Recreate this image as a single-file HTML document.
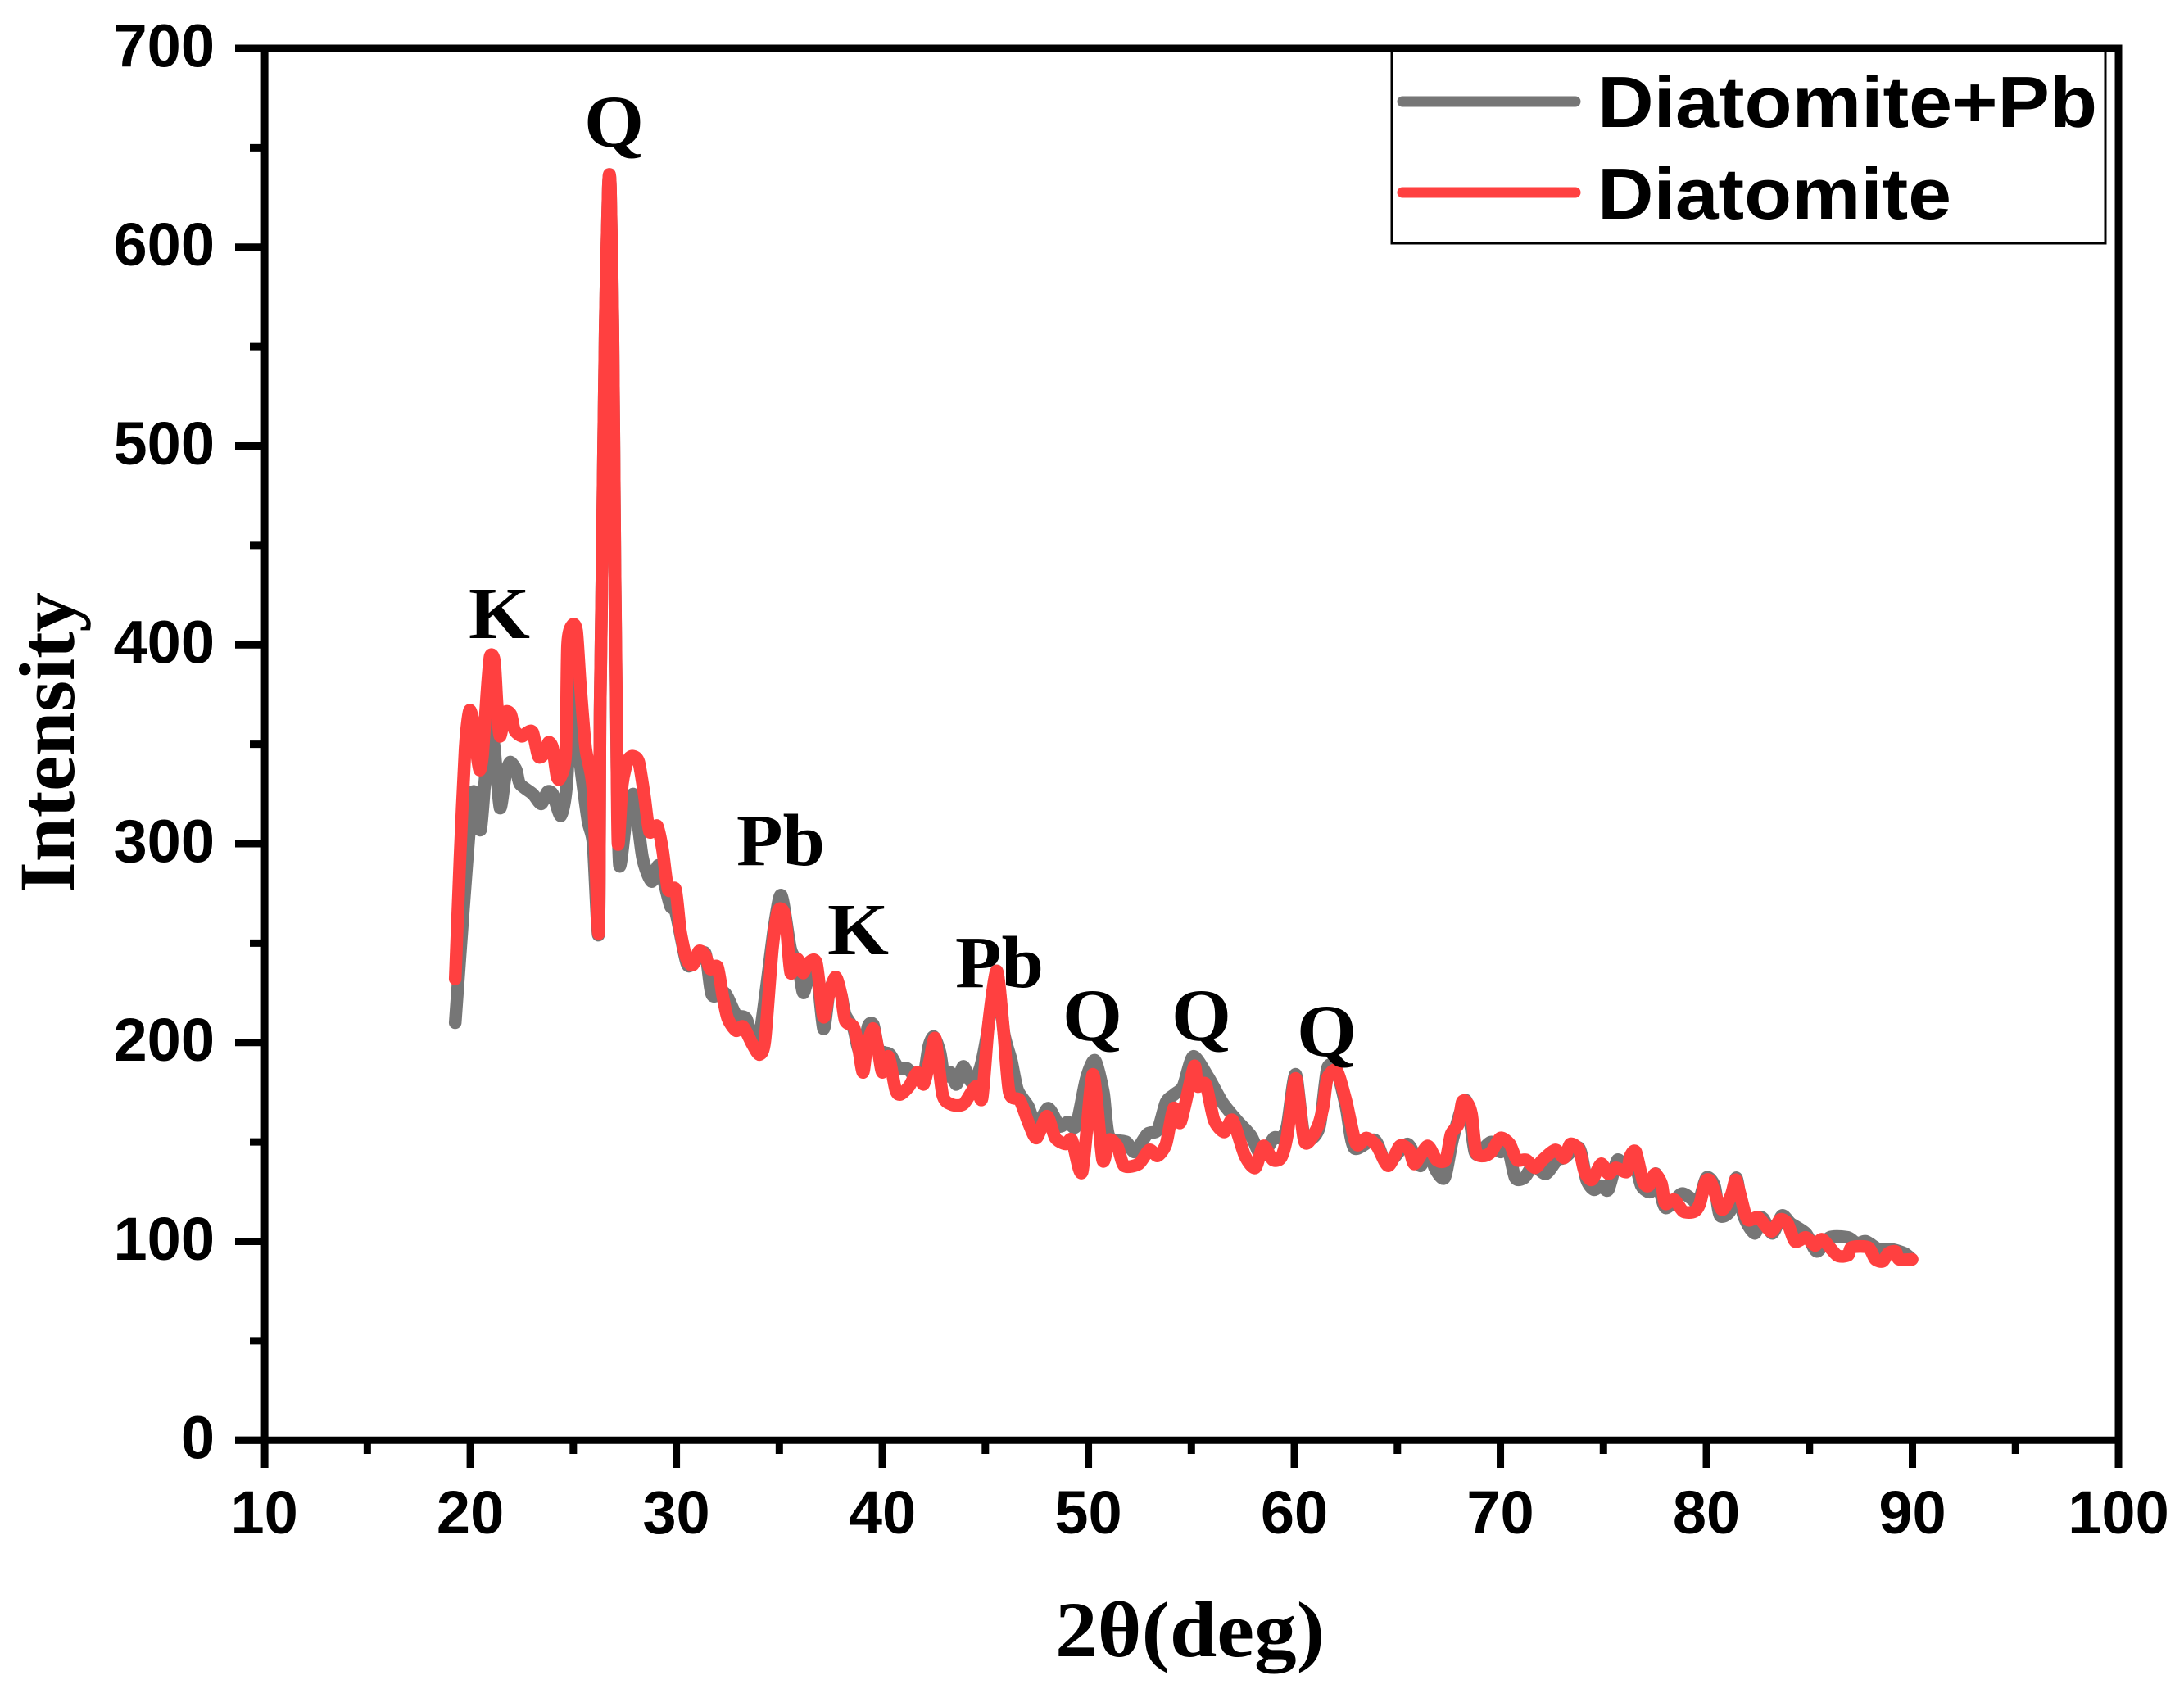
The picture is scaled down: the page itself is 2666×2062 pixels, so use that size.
<!DOCTYPE html>
<html lang="en">
<head>
<meta charset="utf-8">
<title>XRD pattern of Diatomite and Diatomite+Pb</title>
<style>
html,body{margin:0;padding:0;background:#fff;}
svg{display:block;}
.tick-label{font-family:"Liberation Sans",sans-serif;font-weight:bold;font-size:74px;fill:#000;}
.legend-text{font-family:"Liberation Sans",sans-serif;font-weight:bold;font-size:88px;fill:#000;}
.peak{font-family:"Liberation Serif",serif;font-weight:bold;font-size:90px;fill:#000;}
.title{font-family:"Liberation Serif",serif;font-weight:bold;font-size:96px;fill:#000;}
</style>
</head>
<body>
<svg id="chart" xmlns="http://www.w3.org/2000/svg" width="2666" height="2062" viewBox="0 0 2666 2062">
  <rect x="0" y="0" width="2666" height="2062" fill="#fff"/>
  <g id="axes"></g>
  <g id="series"></g>

  <text class="peak" x="572" y="779" textLength="75" lengthAdjust="spacingAndGlyphs">K</text>
  <text class="peak" x="713" y="179" textLength="73" lengthAdjust="spacingAndGlyphs">Q</text>
  <text class="peak" x="899" y="1056" textLength="108" lengthAdjust="spacingAndGlyphs">Pb</text>
  <text class="peak" x="1010" y="1165" textLength="75" lengthAdjust="spacingAndGlyphs">K</text>
  <text class="peak" x="1166" y="1205" textLength="108" lengthAdjust="spacingAndGlyphs">Pb</text>
  <text class="peak" x="1297" y="1270" textLength="73" lengthAdjust="spacingAndGlyphs">Q</text>
  <text class="peak" x="1430" y="1270" textLength="73" lengthAdjust="spacingAndGlyphs">Q</text>
  <text class="peak" x="1583" y="1289" textLength="73" lengthAdjust="spacingAndGlyphs">Q</text>

  <text class="title" x="1288" y="2022" textLength="329" lengthAdjust="spacingAndGlyphs">2θ(deg)</text>
  <text class="title" transform="translate(90,1090) rotate(-90)" x="0" y="0" textLength="367" lengthAdjust="spacingAndGlyphs">Intensity</text>

  <g>
    <rect x="1699" y="62" width="871" height="235" fill="#fff" stroke="#000" stroke-width="3"/>
    <line x1="1712" y1="124" x2="1923" y2="124" stroke="#767676" stroke-width="13" stroke-linecap="round"/>
    <text class="legend-text" x="1950" y="155" textLength="610" lengthAdjust="spacingAndGlyphs">Diatomite+Pb</text>
    <line x1="1712" y1="235" x2="1923" y2="235" stroke="#ff4040" stroke-width="13" stroke-linecap="round"/>
    <text class="legend-text" x="1950" y="267" textLength="432" lengthAdjust="spacingAndGlyphs">Diatomite</text>
  </g>
</svg>
<script>
const xTickValues = [10,20,30,40,50,60,70,80,90,100];
const xTickLabels = ['10','20','30','40','50','60','70','80','90','100'];
const xMinorTicks = [15,25,35,45,55,65,75,85,95];
const yTickValues = [0,100,200,300,400,500,600,700];
const yTickLabels = ['0','100','200','300','400','500','600','700'];
const yMinorTicks = [50,150,250,350,450,550,650];

const grayTheta = [19.27,19.66,20.1,20.28,20.5,20.73,20.96,21.17,21.44,21.7,21.93,22.23,22.41,23.03,23.44,23.74,24,24.4,24.68,24.99,25.25,25.7,25.96,26.23,26.3,26.4,26.55,26.7,26.8,26.92,27.02,27.12,27.24,27.56,27.83,28,28.36,28.8,29.16,29.7,29.96,30.5,30.84,31.4,31.73,32.35,32.9,33.4,33.95,34.75,35.1,35.55,35.9,36.17,36.5,36.8,37.14,37.4,37.7,38,38.2,38.6,38.8,39.06,39.3,39.56,39.8,40.1,40.38,40.8,41.19,41.6,42,42.25,42.5,42.8,43,43.3,43.6,43.93,44.33,44.74,45.1,45.55,45.9,46.26,46.57,47.08,47.48,48.05,48.6,49,49.4,49.9,50.32,50.73,51,51.84,52.25,52.86,53.36,53.77,54.18,54.6,55.09,55.8,56.5,57.2,57.9,58.4,59,59.35,59.65,60.06,60.5,61.2,61.6,62.05,62.5,62.9,63.9,64.5,65.48,66.1,66.55,66.81,67.29,67.7,68.32,68.76,69.1,69.56,70,70.36,70.72,71.16,71.6,72.2,72.76,73.1,73.82,74.18,74.53,74.89,75.24,75.69,76.13,76.48,76.84,77.3,77.55,78,78.79,79.33,79.6,80,80.39,80.66,81.19,81.45,81.8,82.34,82.7,83.2,83.67,84.1,84.83,85.36,85.98,86.87,87.3,87.75,88.38,89,89.62,89.98];
const grayIntensity = [210,266,324,319,307,334,362,348,318,334,341,337,330,325,320,326,325,314,330,385,348,312,300,255,366,440,560,630,630,560,440,340,289,312,324,322,293,281,289,269,266,240,240,245,224,225,214,212,198,258,274,247,240,225,238,238,207,224,232,224,214,207,198,192,208,209,197,195,194,187,187,183,183,198,203,195,183,185,179,188,180,187,205,236,205,191,176,168,158,167,158,160,158,182,191,175,153,150,145,154,156,170,174,178,193,183,170,161,153,143,152,152,158,184,152,157,187,186,168,147,151,139,149,138,147,137,132,152,171,145,146,150,145,147,132,132,138,134,141,142,147,131,126,128,126,141,135,141,128,125,134,117,124,121,119,132,128,113,116,132,113,104,112,104,113,109,104,95,102,102,99,100,96,96,94,91];

const redTheta = [19.27,19.5,19.75,19.96,20.19,20.32,20.46,20.6,20.8,20.96,21.17,21.3,21.44,21.7,21.97,22.15,22.5,22.77,23.03,23.3,23.57,23.8,24,24.2,24.36,24.63,24.72,24.95,25.16,25.34,25.6,25.96,26.23,26.3,26.4,26.55,26.7,26.8,26.92,27.02,27.1,27.17,27.38,27.65,27.9,28.18,28.45,28.7,29.07,29.33,29.6,29.96,30.2,30.5,30.8,31.1,31.4,31.64,32,32.26,32.5,32.9,33.24,33.7,34.04,34.3,34.66,34.93,35.2,35.35,35.55,35.88,36.14,36.4,36.8,37.14,37.4,37.73,38,38.2,38.6,38.8,39.06,39.25,39.56,39.8,40,40.3,40.65,40.9,41.3,41.7,42,42.3,42.57,42.92,43.32,43.93,44.54,44.84,45.15,45.55,45.86,46.16,46.67,47.08,47.48,47.99,48.4,48.9,49.2,49.7,50.22,50.69,51,51.4,51.74,52.45,52.96,53.36,53.77,54.14,54.48,55.13,55.3,55.7,56.1,56.6,57,57.6,58.1,58.5,58.95,59.35,59.65,60.06,60.5,61.1,61.4,61.6,62.05,62.5,63,63.5,64,64.56,65.12,65.57,65.84,66.46,66.9,67.34,67.61,67.96,68.14,68.37,68.6,68.82,69.2,69.56,70,70.45,70.8,71.25,71.69,72.05,72.67,73.1,73.4,73.82,74.09,74.44,74.89,75.24,75.6,76.13,76.31,76.57,76.93,77.2,77.5,77.82,78,78.44,78.88,79.41,79.68,79.95,80.21,80.74,81.19,81.42,81.63,81.99,82.52,83.14,83.58,83.94,84.3,84.83,85.27,85.63,86.34,86.87,87.05,87.85,88.2,88.56,88.82,89.18,89.35,89.98];
const redIntensity = [232,293,348,367,359,345,337,345,375,394,392,370,354,366,365,357,354,356,356,344,345,351,348,334,333,345,400,410,407,380,348,326,255,366,440,560,630,630,560,440,366,300,330,342,344,341,324,306,309,297,277,277,256,242,239,246,244,237,238,223,212,206,208,199,194,201,247,266,266,257,235,242,235,240,240,213,224,233,224,211,208,200,185,198,207,196,185,193,176,174,178,185,179,191,202,174,169,169,178,172,209,236,209,175,171,160,152,163,152,149,151,135,184,141,151,148,138,139,146,143,149,167,160,188,178,179,161,155,161,143,137,148,141,142,153,182,150,157,168,182,186,171,149,152,148,138,148,146,139,148,141,141,154,159,170,170,164,145,143,145,152,149,141,141,137,141,146,142,149,146,135,131,139,134,137,135,143,145,130,128,134,129,119,121,115,115,119,130,130,116,123,131,124,111,112,105,111,109,100,102,98,101,93,93,97,97,91,90,94,95,91,91];

const svgNS = 'http://www.w3.org/2000/svg';
const plotLeft = 322.6, plotRight = 2586, plotTop = 59, plotBottom = 1758.3;
function xScale(v){ return plotLeft + (v - 10) * (plotRight - plotLeft) / 90; }
function yScale(v){ return plotBottom - v * (plotBottom - plotTop) / 700; }

const axesGroup = document.getElementById('axes');
const seriesGroup = document.getElementById('series');

function makeLine(x1, y1, x2, y2, w){
  const l = document.createElementNS(svgNS, 'line');
  l.setAttribute('x1', x1);
  l.setAttribute('y1', y1);
  l.setAttribute('x2', x2);
  l.setAttribute('y2', y2);
  l.setAttribute('stroke', '#000');
  l.setAttribute('stroke-width', w);
  axesGroup.appendChild(l);
  return l;
}
function makeLabel(x, y, anchor, str){
  const t = document.createElementNS(svgNS, 'text');
  t.setAttribute('x', x);
  t.setAttribute('y', y);
  t.setAttribute('text-anchor', anchor);
  t.setAttribute('class', 'tick-label');
  t.textContent = str;
  axesGroup.appendChild(t);
  return t;
}

xTickValues.forEach(function(v, i){
  const tick = makeLine(xScale(v), plotBottom, xScale(v), 1792, 9);
  
  
  const lab = makeLabel(xScale(v), 1872, 'middle', xTickLabels[i]);
  
  
});
xMinorTicks.forEach(function(v){
  const tick = makeLine(xScale(v), plotBottom, xScale(v), 1775, 9);
  
  
});
yTickValues.forEach(function(v, i){
  const tick = makeLine(287, yScale(v), plotLeft, yScale(v), 9);
  
  
  const lab = makeLabel(262, yScale(v) + 22.4, 'end', yTickLabels[i]);
  
  
});
yMinorTicks.forEach(function(v){
  const tick = makeLine(305, yScale(v), plotLeft, yScale(v), 9);
  
  
});

const axisLeft = makeLine(plotLeft, plotTop - 4.5, plotLeft, 1792, 10);


const axisBottom = makeLine(287, plotBottom, plotRight + 4.5, plotBottom, 9);


const axisTop = makeLine(287, plotTop, plotRight + 4.5, plotTop, 9);


const axisRight = makeLine(plotRight, plotTop - 4.5, plotRight, 1792, 9);



function buildPath(xs, ys){
  const pts = xs.map(function(x, i){ return [xScale(x), yScale(ys[i])]; });
  let d = 'M' + pts[0][0].toFixed(1) + ' ' + pts[0][1].toFixed(1);
  for (let i = 0; i < pts.length - 1; i++) {
    const p0 = pts[Math.max(i - 1, 0)];
    const p1 = pts[i];
    const p2 = pts[i + 1];
    const p3 = pts[Math.min(i + 2, pts.length - 1)];
    const c1x = p1[0] + (p2[0] - p0[0]) / 8;
    const c1y = p1[1] + (p2[1] - p0[1]) / 8;
    const c2x = p2[0] - (p3[0] - p1[0]) / 8;
    const c2y = p2[1] - (p3[1] - p1[1]) / 8;
    d += 'C' + c1x.toFixed(1) + ' ' + c1y.toFixed(1) + ' ' + c2x.toFixed(1) + ' ' + c2y.toFixed(1) + ' ' + p2[0].toFixed(1) + ' ' + p2[1].toFixed(1);
  }
  return d;
}
const grayLine = document.createElementNS(svgNS, 'path');


grayLine.setAttribute('d', buildPath(grayTheta, grayIntensity));
grayLine.setAttribute('fill', 'none');
grayLine.setAttribute('stroke', '#767676');
grayLine.setAttribute('stroke-width', '15.5');
grayLine.setAttribute('stroke-linecap', 'round');
grayLine.setAttribute('stroke-linejoin', 'round');
seriesGroup.appendChild(grayLine);

const redLine = document.createElementNS(svgNS, 'path');


redLine.setAttribute('d', buildPath(redTheta, redIntensity));
redLine.setAttribute('fill', 'none');
redLine.setAttribute('stroke', '#ff4040');
redLine.setAttribute('stroke-width', '15.5');
redLine.setAttribute('stroke-linecap', 'round');
redLine.setAttribute('stroke-linejoin', 'round');
seriesGroup.appendChild(redLine);
</script>
</body>
</html>
